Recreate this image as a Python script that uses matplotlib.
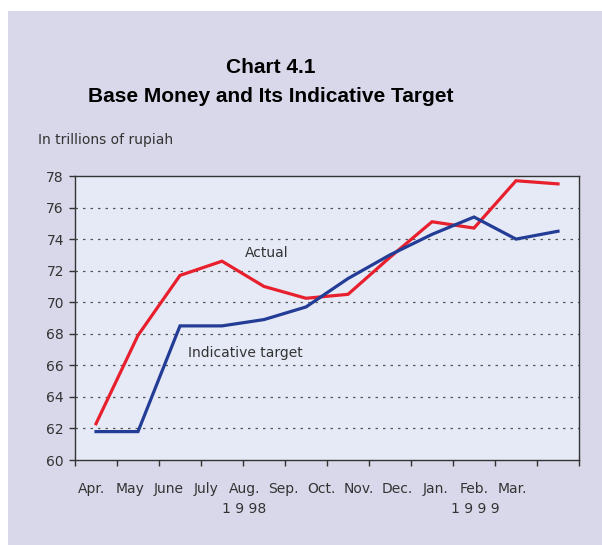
import matplotlib.pyplot as plt
import numpy as np
from matplotlib.patches import Rectangle
from matplotlib.transforms import blended_transform_factory

months = ['Apr.', 'May', 'June', 'July', 'Aug.', 'Sep.', 'Oct.', 'Nov.',
          'Dec.', 'Jan.', 'Feb.', 'Mar.']
actual = [62.3, 67.9, 71.7, 72.6, 71.0, 70.25, 70.5, 72.85, 75.1, 74.7, 77.7, 77.5]
target = [61.8, 61.8, 68.5, 68.5, 68.9, 69.7, 71.5, 73.0, 74.3, 75.4, 74.0, 74.5]
years = ['1 9 98', '1 9 9 9']

fig = plt.figure(figsize=(6.02, 5.45), dpi=100)
fig.patch.set_facecolor('white')
# lavender panel behind everything
fig.add_artist(Rectangle((8 / 602, 0), 1, 534 / 545, transform=fig.transFigure,
                         facecolor='#d9d8ea', edgecolor='none', zorder=-5))

ax = fig.add_axes([75 / 602, 85 / 545, 504 / 602, 284 / 545])
ax.set_zorder(2)
ax.set_facecolor('#e6eaf6')

x = np.arange(1, len(months) + 1)
ax.plot(x, actual, color='#e8202e', lw=2.3, solid_joinstyle='miter', zorder=3)
ax.plot(x, target, color='#233d96', lw=2.3, solid_joinstyle='miter', zorder=3)

ax.set_xlim(0.5, 12.5)
ax.set_ylim(60, 78)
ax.set_yticks(np.arange(60, 79, 2))
ax.set_xticks(np.arange(0.5, 12.6, 1))
ax.set_xticklabels([])
ax.tick_params(axis='both', direction='out', length=4, width=1, color='#333333',
               labelsize=10, labelcolor='#333333')
ax.tick_params(axis='y', pad=4)
for y in range(62, 78, 2):
    ax.axhline(y, color='#555555', lw=0.9, ls=(0, (2, 4)), zorder=1)
for s in ax.spines.values():
    s.set_color('#333333')
    s.set_linewidth(1)

# month labels, spaced a bit tighter than the categories as in the original
trans = blended_transform_factory(ax.transAxes, fig.transFigure)
pos = np.linspace((92 - 75) / 504, (512 - 75) / 504, len(months))
for p, m in zip(pos, months):
    fig.text(p, 1 - 489 / 545, m, transform=trans, ha='center', va='center',
             fontsize=10, color='#333333')
fig.text(244 / 602, 1 - 509 / 545, years[0], ha='center', va='center',
         fontsize=10, color='#333333')
fig.text(475 / 602, 1 - 509 / 545, years[1], ha='center', va='center',
         fontsize=10, color='#333333')

ax.text(267 / 602, 1 - 253 / 545, 'Actual', transform=fig.transFigure,
        ha='center', va='center', fontsize=10, color='#333333', zorder=4)
ax.text(245 / 602, 1 - 353 / 545, 'Indicative target', transform=fig.transFigure,
        ha='center', va='center', fontsize=10, color='#333333', zorder=4)

title_font = ['Liberation Sans', 'DejaVu Sans']
fig.text(271 / 602, 1 - 67 / 545, 'Chart 4.1', ha='center', va='center',
         fontsize=15, fontweight='bold', color='black', family=title_font)
fig.text(271 / 602, 1 - 97 / 545, 'Base Money and Its Indicative Target', ha='center',
         va='center', fontsize=15, fontweight='bold', color='black', family=title_font)
fig.text(38 / 602, 1 - 140 / 545, 'In trillions of rupiah', ha='left', va='center',
         fontsize=10, color='#333333')

fig.savefig('out.png', dpi=100)
